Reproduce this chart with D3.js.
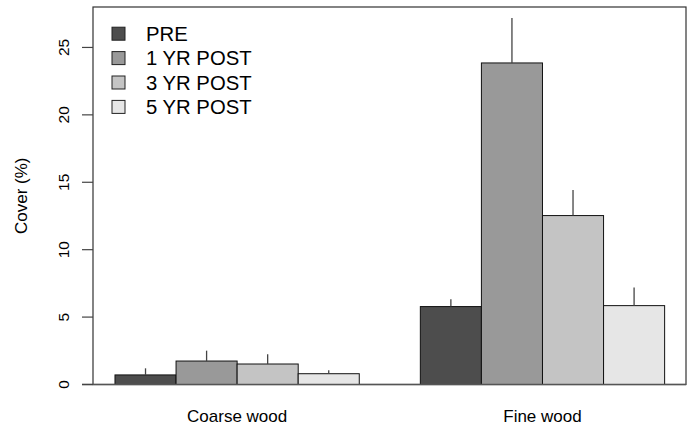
<!DOCTYPE html>
<html><head><meta charset="utf-8">
<script src="https://cdn.jsdelivr.net/npm/d3@7"></script>
<style>body{margin:0;background:#fff}svg{display:block}text{font-family:"Liberation Sans",Arial,sans-serif;fill:#000}</style>
</head><body><svg id="c" width="695" height="429"></svg>
<script>
const categories = ["Coarse wood", "Fine wood"];
const seriesNames = ["PRE", "1 YR POST", "3 YR POST", "5 YR POST"];
const seriesColors = ["#4d4d4d", "#999999", "#c4c4c4", "#e6e6e6"];
const coarseValues = [0.71, 1.74, 1.52, 0.80];
const coarseUpper = [1.20, 2.51, 2.24, 1.05];
const fineValues = [5.78, 23.85, 12.53, 5.85];
const fineUpper = [6.33, 27.19, 14.42, 7.19];
const yTicks = [0, 5, 10, 15, 20, 25];

const values = [coarseValues, fineValues];
const uppers = [coarseUpper, fineUpper];

const svg = d3.select("#c");
const L = 93, R = 686, T = 7, B = 384.5;
const y = d3.scaleLinear().domain([0, 28]).range([B, T]);
const x = d3.scaleLinear().domain([0.64, 10.35]).range([L, R]);

svg.append("rect").attr("x", L).attr("y", T).attr("width", R - L).attr("height", B - T)
  .attr("fill", "none").attr("stroke", "#333").attr("stroke-width", 1.2);

const data = [];
categories.forEach((c, g) => seriesNames.forEach((s, i) => {
  data.push({g, i, v: values[g][i], u: uppers[g][i], x0: 1 + 5 * g + i});
}));

svg.selectAll("rect.bar").data(data).enter().append("rect").attr("class", "bar")
  .attr("x", d => x(d.x0)).attr("width", d => x(d.x0 + 1) - x(d.x0))
  .attr("y", d => y(d.v)).attr("height", d => y(0) - y(d.v))
  .attr("fill", d => seriesColors[d.i]).attr("stroke", "#111").attr("stroke-width", 1);

svg.selectAll("line.err").data(data).enter().append("line").attr("class", "err")
  .attr("x1", d => x(d.x0 + 0.5)).attr("x2", d => x(d.x0 + 0.5))
  .attr("y1", d => y(d.v)).attr("y2", d => y(d.u))
  .attr("stroke", "#444").attr("stroke-width", 1.3);

svg.append("line").attr("x1", 82).attr("x2", R).attr("y1", y(0)).attr("y2", y(0))
  .attr("stroke", "#555").attr("stroke-width", 1.5);

const ax = svg.append("g");
ax.selectAll("line").data(yTicks).enter().append("line")
  .attr("x1", L - 11).attr("x2", L).attr("y1", d => y(d)).attr("y2", d => y(d))
  .attr("stroke", "#444").attr("stroke-width", 1.2);
ax.selectAll("text").data(yTicks).enter().append("text")
  .attr("transform", d => `translate(68.5,${y(d)}) rotate(-90)`)
  .attr("text-anchor", "middle").attr("font-size", 15.5).text(d => d);

svg.append("text").attr("transform", `translate(27,${(T + B) / 2}) rotate(-90)`)
  .attr("text-anchor", "middle").attr("font-size", 17).text("Cover (%)");

svg.selectAll("text.cat").data(categories).enter().append("text").attr("class", "cat")
  .attr("x", (d, g) => x(1 + 5 * g + 2)).attr("y", 422)
  .attr("text-anchor", "middle").attr("font-size", 17).text(d => d);

const lg = svg.selectAll("g.lg").data(seriesNames).enter().append("g").attr("class", "lg")
  .attr("transform", (d, i) => `translate(112,${33.7 + i * 24.4})`);
lg.append("rect").attr("x", 0).attr("y", -6.5).attr("width", 13).attr("height", 13)
  .attr("fill", (d, i) => seriesColors[i]).attr("stroke", "#222").attr("stroke-width", 1);
lg.append("text").attr("x", 34).attr("y", 7.2).attr("font-size", 20.3).text(d => d);
</script></body></html>
